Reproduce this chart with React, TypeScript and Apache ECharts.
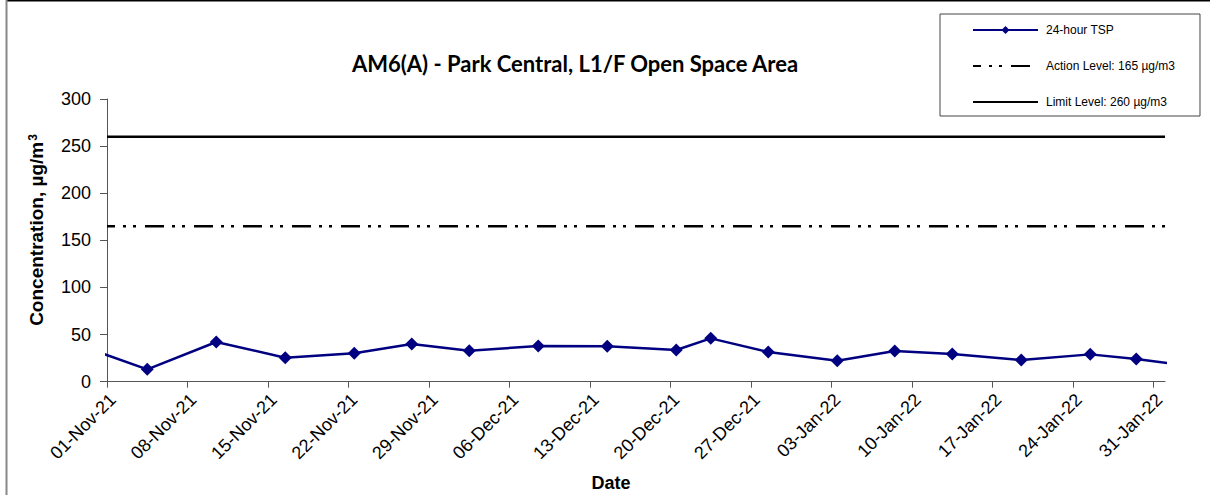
import React, { useEffect, useRef } from "react";
import * as echarts from "echarts";

const sampleDates = [
  "2021-10-29", "2021-11-04", "2021-11-10", "2021-11-16", "2021-11-22", "2021-11-27",
  "2021-12-02", "2021-12-08", "2021-12-14", "2021-12-20", "2021-12-23", "2021-12-28",
  "2022-01-03", "2022-01-08", "2022-01-13", "2022-01-19", "2022-01-25", "2022-01-29",
  "2022-02-04",
];
const tspValues = [
  39, 13.1, 42.1, 25.5, 30.1, 40.0,
  32.9, 37.9, 37.5, 33.6, 46.0, 31.5,
  22.3, 32.6, 29.4, 23.0, 29.0, 24.1,
  14.7,
];
const tickLabels = [
  "01-Nov-21", "08-Nov-21", "15-Nov-21", "22-Nov-21", "29-Nov-21", "06-Dec-21", "13-Dec-21",
  "20-Dec-21", "27-Dec-21", "03-Jan-22", "10-Jan-22", "17-Jan-22", "24-Jan-22", "31-Jan-22",
];
const axisStart = "2021-11-01";
const axisEnd = "2022-02-01";
const actionLevel = 165;
const limitLevel = 260;
const seriesNames = ["24-hour TSP", "Action Level: 165 µg/m3", "Limit Level: 260 µg/m3"];

const MONTHS = ["Jan", "Feb", "Mar", "Apr", "May", "Jun", "Jul", "Aug", "Sep", "Oct", "Nov", "Dec"];
const DAY = 86400000;
const isoToUtc = (s: string) => {
  const [y, m, d] = s.split("-").map(Number);
  return Date.UTC(y, m - 1, d);
};
const labelToUtc = (s: string) => {
  const [d, mon, yy] = s.split("-");
  return Date.UTC(2000 + Number(yy), MONTHS.indexOf(mon), Number(d));
};
const t0 = isoToUtc(axisStart);
const dayIndex = (utc: number) => Math.round((utc - t0) / DAY);
const axisMax = dayIndex(isoToUtc(axisEnd));
const tickDays = tickLabels.map((l) => dayIndex(labelToUtc(l)));
const labelByDay: Record<number, string> = {};
tickLabels.forEach((l, i) => (labelByDay[tickDays[i]] = l));

// Excel date axis: each date plotted at the middle of its day slot
const tspData = sampleDates.map((d, i) => [dayIndex(isoToUtc(d)) + 0.5, tspValues[i]]);

const FONT = "Liberation Sans, Arial, sans-serif";
const CLEAR = "rgba(0,0,0,0)";

export default function App() {
  const ref = useRef<HTMLDivElement>(null);
  useEffect(() => {
    document.body.style.margin = "0";
    const chart = echarts.init(ref.current!, undefined, { renderer: "svg" });
    chart.setOption({
      animation: false,
      backgroundColor: "#fff",
      title: {
        text: "AM6(A) - Park Central, L1/F Open Space Area",
        left: 570,
        top: 47,
        textAlign: "center",
        textStyle: { fontFamily: "Lato", fontWeight: "bold", fontSize: 22, color: "#000" },
      },
      legend: {
        left: 940,
        top: 14,
        orient: "vertical",
        padding: [10, 25, 8, 32],
        itemGap: 24,
        itemWidth: 65,
        itemHeight: 10,
        borderColor: "#444",
        borderWidth: 1,
        borderRadius: 0,
        data: [
          { name: seriesNames[0] },
          { name: seriesNames[1], itemStyle: { opacity: 0 } },
          { name: seriesNames[2], itemStyle: { opacity: 0 } },
        ],
        textStyle: { fontFamily: FONT, fontSize: 12, color: "#000", padding: [0, 0, 0, 3] },
      },
      grid: { left: 107, right: 45, top: 99, bottom: 113.3, containLabel: false },
      xAxis: {
        type: "value",
        min: 0,
        max: axisMax,
        splitLine: { show: false },
        axisLine: { show: true, lineStyle: { color: "#555", width: 1 } },
        axisTick: {
          show: true,
          length: 6,
          lineStyle: { color: "#555" },
          customValues: tickDays,
        },
        axisLabel: {
          customValues: tickDays.map((d) => d + 0.5),
          formatter: (v: number) => labelByDay[Math.floor(v)] || "",
          rotate: 45,
          margin: 15,
          fontFamily: FONT,
          fontSize: 18,
          color: "#000",
        },
      },
      yAxis: {
        type: "value",
        min: 0,
        max: 300,
        interval: 50,
        splitLine: { show: false },
        axisLine: { show: true, lineStyle: { color: "#555", width: 1 } },
        axisTick: { show: true, length: 7, lineStyle: { color: "#555" } },
        axisLabel: { margin: 16, fontFamily: FONT, fontSize: 18, color: "#000" },
      },
      graphic: [
        { type: "line", shape: { x1: 6, y1: 0.75, x2: 1210, y2: 0.75 }, style: { stroke: "#000", lineWidth: 1.5 } },
        { type: "line", shape: { x1: 6.5, y1: 0, x2: 6.5, y2: 495 }, style: { stroke: "#888", lineWidth: 2 } },
        {
          type: "text",
          x: 36,
          y: 230,
          rotation: Math.PI / 2,
          style: {
            text: "{a|Concentration, µg/m}{b|3}",
            align: "center",
            verticalAlign: "middle",
            rich: {
              a: { fontFamily: FONT, fontWeight: "bold", fontSize: 19, fill: "#000" },
              b: { fontFamily: FONT, fontWeight: "bold", fontSize: 12, fill: "#000", verticalAlign: "top", padding: [0, 0, 6, 1] },
            },
          },
        },
        {
          type: "text",
          x: 611,
          y: 483,
          style: {
            text: "Date",
            align: "center",
            verticalAlign: "middle",
            fontFamily: FONT,
            fontWeight: "bold",
            fontSize: 18,
            fill: "#000",
          },
        },
      ],
      series: [
        {
          name: seriesNames[0],
          type: "line",
          data: tspData,
          clip: true,
          symbol: "diamond",
          symbolSize: 13,
          itemStyle: { color: "#000080" },
          lineStyle: { color: "#000080", width: 2.5 },
          z: 5,
        },
        {
          name: seriesNames[1],
          type: "line",
          data: [[0, actionLevel], [axisMax, actionLevel]],
          symbol: "none",
          itemStyle: { color: CLEAR },
          lineStyle: { color: "#000", width: 2.5, type: [19, 8, 3, 7, 3, 9], dashOffset: 11 },
        },
        {
          name: seriesNames[2],
          type: "line",
          data: [[0, limitLevel], [axisMax, limitLevel]],
          symbol: "none",
          itemStyle: { color: CLEAR },
          lineStyle: { color: "#000", width: 2.5 },
        },
      ],
    });
    return () => chart.dispose();
  }, []);
  return <div ref={ref} style={{ position: "fixed", left: 0, top: 0, width: 1210, height: 495 }} />;
}
